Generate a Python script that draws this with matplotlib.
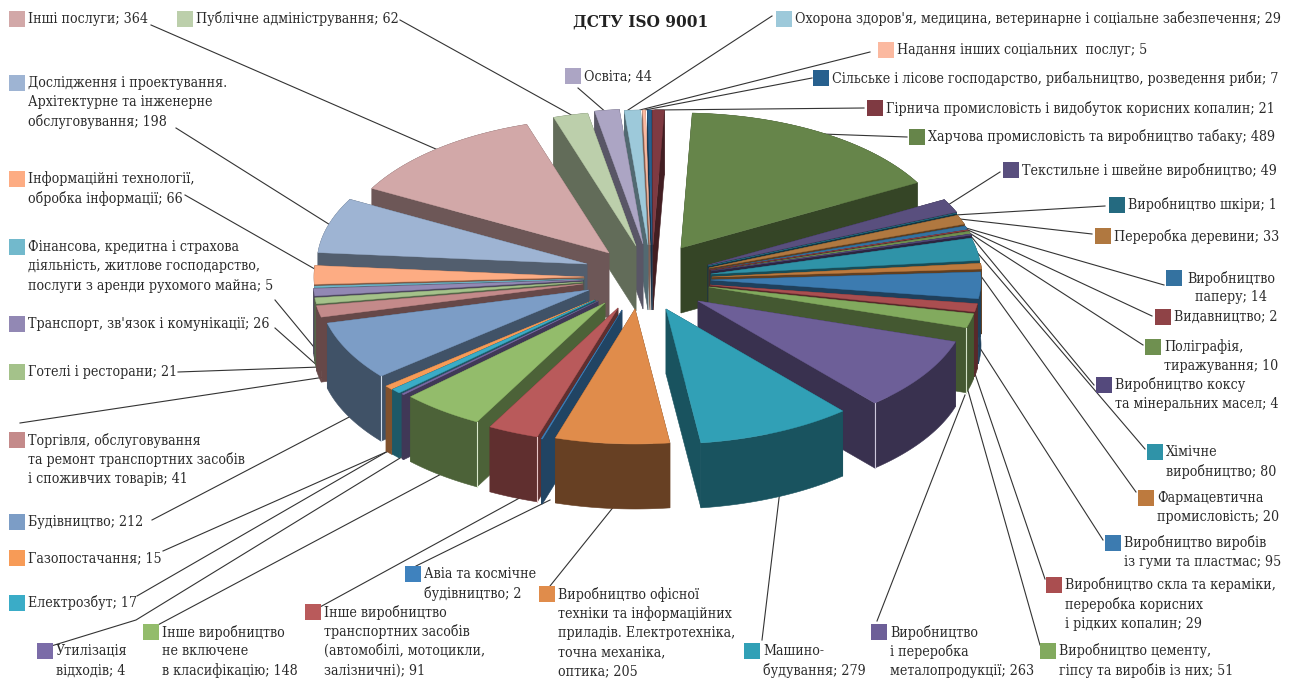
import numpy as np
import matplotlib
matplotlib.use('Agg')
import matplotlib.pyplot as plt
from matplotlib.patches import Polygon, Rectangle
from matplotlib.colors import to_rgb

title = 'ДСТУ ISO 9001'

# clockwise, starting from the big green slice
categories = [
    'Харчова промисловість та виробництво табаку',
    'Текстильне і швейне виробництво',
    'Виробництво шкіри',
    'Переробка деревини',
    'Виробництво\nпаперу',
    'Видавництво',
    'Поліграфія,\nтиражування',
    'Виробництво коксу\nта мінеральних масел',
    'Хімічне\nвиробництво',
    'Фармацевтична\nпромисловість',
    'Виробництво виробів\nіз гуми та пластмас',
    'Виробництво скла та кераміки,\nпереробка корисних\nі рідких копалин',
    'Виробництво цементу,\nгіпсу та виробів із них',
    'Виробництво\nі переробка\nметалопродукції',
    'Машино-\nбудування',
    'Виробництво офісної\nтехніки та інформаційних\nприладів. Електротехніка,\nточна механіка,\nоптика',
    'Авіа та космічне\nбудівництво',
    'Інше виробництво\nтранспортних засобів\n(автомобілі, мотоцикли,\nзалізничні)',
    'Інше виробництво\nне включене\nв класифікацію',
    'Утилізація\nвідходів',
    'Електрозбут',
    'Газопостачання',
    'Будівництво',
    'Торгівля, обслуговування\nта ремонт транспортних засобів\nі споживчих товарів',
    'Готелі і ресторани',
    "Транспорт, зв'язок і комунікації",
    'Фінансова, кредитна і страхова\nдіяльність, житлове господарство,\nпослуги з аренди рухомого майна',
    'Інформаційні технології,\nобробка інформації',
    'Дослідження і проектування.\nАрхітектурне та інженерне\nобслуговування',
    'Інші послуги',
    'Публічне адміністрування',
    'Освіта',
    "Охорона здоров'я, медицина, ветеринарне і соціальне забезпечення",
    'Надання інших соціальних  послуг',
    'Сільське і лісове господарство, рибальництво, розведення риби',
    'Гірнича промисловість і видобуток корисних копалин',
]
values = [489, 49, 1, 33, 14, 2, 10, 4, 80, 20, 95, 29, 51, 263, 279, 205, 2, 91,
          148, 4, 17, 15, 212, 41, 21, 26, 5, 66, 198, 364, 62, 44, 29, 5, 7, 21]

colors = ['#66854A', '#594F7E', '#246A80', '#B07840', '#3472A0', '#8F4347', '#6F9050',
          '#54497C', '#2F93A8', '#BD7A3E', '#3C7BB0', '#AA4E50', '#82AA5E', '#6D5F98',
          '#31A0B6', '#E08C4B', '#3F82BE', '#B95A5B', '#93BC6B', '#7B6CA8', '#3AACC7',
          '#F79B57', '#7C9DC6', '#C48A8A', '#A4C28A', '#9288B4', '#72B9CC', '#FDAC83',
          '#9EB4D3', '#D2A8A8', '#BCCFAB', '#ACA5C4', '#9DC9DA', '#FBB9A0', '#27608E',
          '#7F3A42']

# where the tip of every pulled out slice sits (pixels)
tip_x = [681, 708, 708, 709, 710, 710, 711, 711, 711, 712, 711, 710, 709, 698, 666, 635, 622, 618,
         605, 598, 595, 594, 589, 583, 583, 583, 584, 584, 587, 609, 636, 643, 648, 650, 652, 653]
tip_y = [248, 265, 266, 268, 270, 270, 271, 271, 274, 277, 280, 285, 287, 301, 309, 309, 310, 308,
         303, 301, 300, 300, 290, 284, 282, 280, 279, 277, 264, 253, 246, 244, 245, 245, 245, 245]

# label layout: key left, first line centre
key_x = [909, 1003, 1109, 1095, 1166, 1155, 1145, 1096, 1147, 1138, 1105, 1046, 1040, 871, 744, 539,
         405, 305, 143, 37, 9, 9, 9, 9, 9, 9, 9, 9, 9, 9, 177, 565, 776, 878, 813, 867]
label_y = [137, 170, 205, 236, 278, 317, 347, 385, 452, 498, 543, 585, 651, 632, 651, 594,
           574, 612, 632, 651, 603, 558, 522, 440, 372, 324, 247, 179, 83, 19, 19, 76, 19, 50, 78, 108]

# leader lines (pixels), label end first
leaders = [
    [(907, 137), (822, 134)], [(1000, 172), (948, 205)], [(1105, 206), (955, 215)],
    [(1092, 234), (960, 219)], [(1164, 285), (966, 228)], [(1152, 316), (968, 230)],
    [(1143, 345), (968, 232)], [(1094, 385), (970, 235)], [(1145, 449), (975, 250)],
    [(1136, 492), (978, 272)], [(1103, 540), (978, 345)], [(1045, 579), (972, 365)],
    [(1040, 645), (965, 380)], [(877, 621), (965, 395)], [(762, 640), (780, 490)],
    [(550, 586), (615, 505)], [(416, 566), (550, 500)], [(320, 607), (525, 495)],
    [(154, 627), (445, 472)], [(48, 647), (136, 620), (405, 455)], [(137, 596), (395, 447)],
    [(163, 551), (393, 449)], [(152, 520), (355, 414)], [(20, 423), (325, 377)],
    [(178, 372), (320, 367)], [(275, 328), (320, 368)], [(275, 300), (318, 352)],
    [(185, 195), (320, 272)], [(176, 128), (335, 228)], [(151, 25), (445, 153)],
    [(400, 20), (575, 117)], [(578, 88), (608, 114)], [(772, 16), (625, 112)],
    [(870, 52), (640, 110)], [(812, 78), (645, 110)], [(864, 108), (655, 110)],
]

radius = 270
squash = 0.5
depth = 65
start = 2.4
line_gap = 19.4

side_shade = np.full(len(values), 0.52)
side_shade[15] = 0.46
light_corner = [12, 13, 17, 18, 22]

plt.rcParams['font.family'] = ['DejaVu Serif']

fig = plt.figure(figsize=(12.9, 6.82), dpi=100)
ax = fig.add_axes([0, 0, 1, 1])
ax.set_xlim(0, 1290)
ax.set_ylim(682, 0)
ax.axis('off')

vals = np.array(values, dtype=float)
edges = start + np.concatenate([[0], np.cumsum(vals)]) / vals.sum() * 360
mids = (edges[:-1] + edges[1:]) / 2


def arc(i):
    t = np.radians(np.linspace(edges[i], edges[i + 1], max(int(edges[i + 1] - edges[i]) * 2, 2)))
    return np.column_stack([tip_x[i] + radius * np.sin(t), tip_y[i] - radius * squash * np.cos(t)])


# back slices first, front ones painted over them
order = np.argsort(-np.abs(mids - 180))
for z, i in enumerate(order):
    top = arc(i)
    tip = np.array([tip_x[i], tip_y[i]], dtype=float)
    side = tuple(np.array(to_rgb(colors[i])) * side_shade[i])
    down = np.array([0, depth])
    zz = 3 + z * 0.01
    # the two cut faces and the outer wall
    for a in (top[0], top[-1]):
        ax.add_patch(Polygon([tip, a, a + down, tip + down], facecolor=side, edgecolor=side,
                             linewidth=0.4, zorder=zz))
    ax.add_patch(Polygon(np.vstack([top, (top + down)[::-1]]), facecolor=side, edgecolor=side,
                         linewidth=0.4, zorder=zz))
    if i in light_corner:
        c = top[-1] if mids[i] < 180 else top[0]
        pale = tuple(0.35 * np.array(to_rgb(colors[i])) + 0.65)
        ax.plot([c[0], c[0]], [c[1], c[1] + depth], color=pale, linewidth=0.8, zorder=zz + 0.002)
    ax.add_patch(Polygon(np.vstack([tip, top]), facecolor=colors[i], edgecolor=colors[i],
                         linewidth=0.3, zorder=zz + 0.005))

for pts in leaders:
    pts = np.array(pts)
    ax.plot(pts[:, 0], pts[:, 1], color='#333333', linewidth=0.8, zorder=2)

for i, name in enumerate(categories):
    ax.add_patch(Rectangle((key_x[i], label_y[i] - 8), 16, 16, facecolor=colors[i],
                           edgecolor='none', zorder=5))
    lines = f'{name}; {values[i]}'.split('\n')
    for j, line in enumerate(lines):
        if name.endswith('паперу'):
            ax.text(key_x[i] + 65, label_y[i] + j * line_gap, line, ha='center', va='center',
                    fontsize=10.2, fontstretch='condensed', color='#2a2a2a', zorder=6)
        else:
            ax.text(key_x[i] + 19, label_y[i] + j * line_gap, line, ha='left', va='center',
                    fontsize=10.2, fontstretch='condensed', color='#2a2a2a', zorder=6)

ax.text(641, 22, title, ha='center', va='center', fontsize=12.3, fontweight='bold',
        fontstretch='condensed', color='#222222')

fig.savefig('out.png', dpi=100)
